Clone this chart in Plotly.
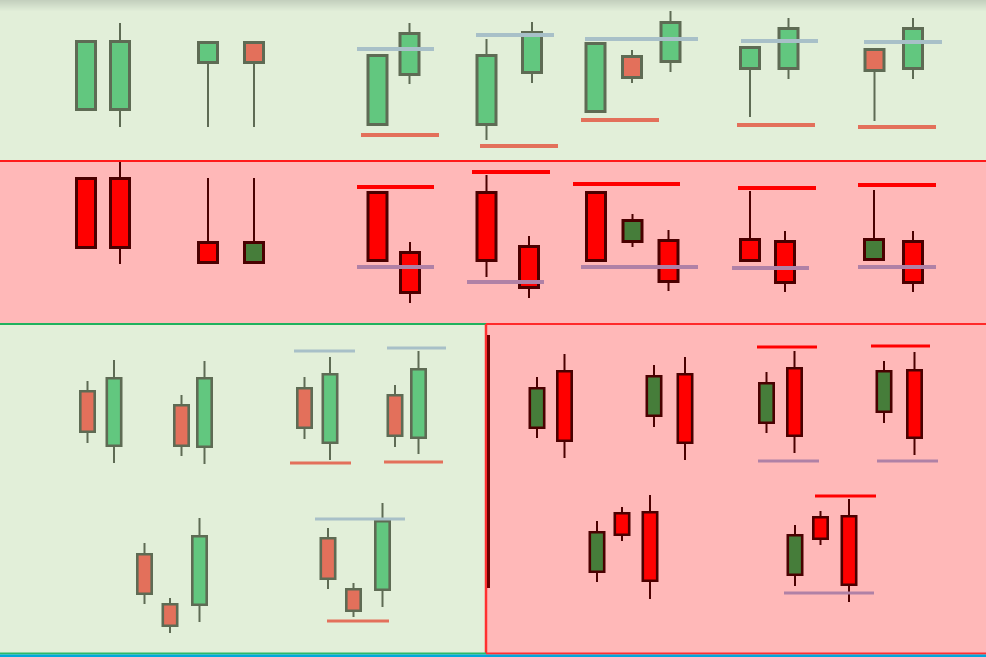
import plotly.graph_objects as go

W, H = 986, 657

# ---------------- candle data (price units, up = higher) ----------------
# Panel 1: top band (bullish patterns, light theme)
p1_x     = [86, 120, 208, 254, 377.5, 409.5, 486.5, 532, 595.5, 632, 670.5, 750, 788.5, 874.5, 913]
p1_open  = [546, 546, 593, 616, 531, 581, 531, 583, 544, 602, 594, 587, 587, 609, 587]
p1_high  = [617, 634, 616, 616, 603, 634, 618, 635, 615, 607, 646, 611, 639, 609, 639]
p1_low   = [546, 530, 530, 530, 531, 573, 517, 574, 544, 574, 585, 540, 578, 536, 578]
p1_close = [617, 617, 616, 593, 603, 625, 603, 626, 615, 578, 636, 611, 630, 585, 630]

# Panel 2: second band (bearish patterns, dark theme)
p2_x     = [86, 120, 208, 254, 377.5, 410, 486.5, 529, 596, 632.5, 668.5, 750, 785, 874, 913]
p2_open  = [480, 480, 416, 393, 466, 406, 466, 412, 466, 414, 418, 419, 417, 396, 417]
p2_high  = [480, 495, 479, 479, 466, 415, 482, 421, 466, 443, 427, 466, 426, 467, 426]
p2_low   = [408, 393, 393, 393, 395, 354, 380, 359, 395, 410, 366, 395, 365, 396, 365]
p2_close = [408, 408, 393, 416, 395, 363, 395, 368, 395, 438, 374, 395, 373, 419, 373]

# Panel 3: bottom-left (bullish reversal patterns, light theme)
p3_x     = [87.5, 114, 181.5, 204.5, 304.5, 330, 395, 418.5, 144.5, 170, 199.5, 328, 353.5, 382.5]
p3_open  = [267, 210, 253, 209, 270, 213, 263, 218, 104, 54, 51, 120, 69, 66]
p3_high  = [276, 297, 262, 296, 280, 300, 272, 306, 114, 59, 139, 129, 74, 154]
p3_low   = [214, 194, 201, 193, 218, 197, 210, 203, 53, 24, 35, 68, 40, 50]
p3_close = [224, 280, 210, 280, 228, 284, 220, 289, 62, 30, 122, 77, 45, 137]

# Panel 4: bottom-right (bearish reversal patterns, dark theme)
p4_x     = [537, 564.5, 654, 685, 766.5, 794.5, 884, 914.5, 597, 622, 650, 795, 820.5, 849]
p4_open  = [228, 287, 240, 284, 233, 290, 244, 288, 84, 145, 146, 81, 141, 142]
p4_high  = [280, 303, 292, 300, 285, 306, 296, 305, 136, 150, 162, 132, 146, 158]
p4_low   = [219, 199, 230, 197, 224, 204, 234, 202, 75, 116, 58, 71, 112, 55]
p4_close = [270, 215, 282, 213, 275, 220, 287, 218, 126, 121, 75, 123, 117, 71]

# ---------------- level lines: (start, end, price) ----------------
p1_resist  = [(357, 434, 608), (476, 554, 622), (585, 698, 618), (741, 818, 616), (864, 942, 615)]
p1_support = [(361, 439, 522), (480, 558, 511), (581, 659, 537), (737, 815, 532), (858, 936, 530)]
p2_resist  = [(357, 434, 470), (472, 550, 485), (573, 680, 473), (738, 816, 469), (858, 936, 472)]
p2_support = [(357, 434, 390), (467, 544, 375), (581, 698, 390), (732, 809, 389), (858, 936, 390)]
p3_resist  = [(294, 355, 306), (387, 446, 309), (315, 405, 138)]
p3_support = [(290, 351, 194), (384, 443, 195), (327, 389, 36)]
p4_resist  = [(757, 817, 310), (871, 930, 311), (815, 876, 161)]
p4_support = [(758, 819, 196), (877, 938, 196), (784, 874, 64)]

# ---------------- styles ----------------
themes = {
    "light": dict(up="#62c77f", down="#e3705b", edge="#5e6b54",
                  res="#a8c0c8", sup="#e3705b"),
    "dark": dict(up="#467d3a", down="#ff0000", edge="#4a0000",
                 res="#ff0000", sup="#b081a6"),
}
panels = [
    dict(x=p1_x, o=p1_open, h=p1_high, l=p1_low, c=p1_close, theme="light",
         bw=22, lw=3, res=p1_resist, sup=p1_support, lvw=4),
    dict(x=p2_x, o=p2_open, h=p2_high, l=p2_low, c=p2_close, theme="dark",
         bw=22, lw=3, res=p2_resist, sup=p2_support, lvw=4),
    dict(x=p3_x, o=p3_open, h=p3_high, l=p3_low, c=p3_close, theme="light",
         bw=17, lw=2.6, res=p3_resist, sup=p3_support, lvw=3),
    dict(x=p4_x, o=p4_open, h=p4_high, l=p4_low, c=p4_close, theme="dark",
         bw=17, lw=2.6, res=p4_resist, sup=p4_support, lvw=3),
]

fig = go.Figure()

# ---------------- backgrounds ----------------
shapes = []
def rect(x0, x1, y0, y1, color):
    shapes.append(dict(type="rect", xref="x", yref="y", x0=x0, x1=x1, y0=y0, y1=y1,
                       fillcolor=color, line=dict(width=0), layer="below"))
def hline(x0, x1, y, color, w):
    shapes.append(dict(type="line", xref="x", yref="y", x0=x0, x1=x1, y0=y, y1=y,
                       line=dict(color=color, width=w), layer="below"))
def vline(x, y0, y1, color, w):
    shapes.append(dict(type="line", xref="x", yref="y", x0=x, x1=x, y0=y0, y1=y1,
                       line=dict(color=color, width=w), layer="below"))

rect(0, W, 496, H, "#e2efd9")
# soft darker gradient at the very top
top_c0 = (196, 208, 190)
top_c1 = (226, 239, 217)
steps = 12
for i in range(steps):
    t = i / (steps - 1)
    col = tuple(round(a + (b - a) * t) for a, b in zip(top_c0, top_c1))
    rect(0, W, H - i - 1, H - i, "rgb(%d,%d,%d)" % col)
rect(0, W, 333, 496, "#ffb8b8")
rect(0, 486, 0, 333, "#e2efd9")
rect(486, W, 0, 333, "#ffb8b8")
hline(0, W, 496, "#ff1a1a", 2)
hline(0, 486, 333, "#1fb25e", 2)
hline(486, W, 333, "#ff2a2a", 2)
vline(486, 3, 333, "#ff3030", 2.5)
vline(488.5, 69, 322, "#6a0000", 3)
hline(0, 486, 3.5, "#2cba6a", 2)
hline(486, W, 3.5, "#ff3030", 2)
rect(0, W, 0, 2.5, "#00a8dc")

# ---------------- candles ----------------
for p in panels:
    th = themes[p["theme"]]
    lw = p["lw"]
    bx, bbase, bh, bcol = [], [], [], []
    wx, wy = [], []
    for x, o, h, l, c in zip(p["x"], p["o"], p["h"], p["l"], p["c"]):
        lo, hi = min(o, c), max(o, c)
        bx.append(x)
        bbase.append(lo + lw / 2)
        bh.append(hi - lo - lw)
        bcol.append(th["up"] if c > o else th["down"])
        if h > hi:
            wx += [x, x, None]
            wy += [h, hi, None]
        if l < lo:
            wx += [x, x, None]
            wy += [lo, l, None]
    fig.add_trace(go.Scatter(x=wx, y=wy, mode="lines",
                             line=dict(color=th["edge"], width=2),
                             hoverinfo="skip", showlegend=False))
    fig.add_trace(go.Bar(x=bx, base=bbase, y=bh, width=p["bw"] - lw,
                         marker=dict(color=bcol, line=dict(color=th["edge"], width=lw)),
                         hoverinfo="skip", showlegend=False))

# ---------------- level lines ----------------
for p in panels:
    th = themes[p["theme"]]
    for key, col in (("res", th["res"]), ("sup", th["sup"])):
        lx, ly = [], []
        for x0, x1, y in p[key]:
            lx += [x0, x1, None]
            ly += [y, y, None]
        fig.add_trace(go.Scatter(x=lx, y=ly, mode="lines",
                                 line=dict(color=col, width=p["lvw"]),
                                 hoverinfo="skip", showlegend=False))

fig.update_layout(
    width=W, height=H, margin=dict(l=0, r=0, t=0, b=0),
    paper_bgcolor="#e2efd9", plot_bgcolor="rgba(0,0,0,0)",
    barmode="overlay", shapes=shapes, showlegend=False,
    xaxis=dict(range=[0, W], visible=False, fixedrange=True),
    yaxis=dict(range=[0, H], visible=False, fixedrange=True),
)

fig.write_html("out.html", config={"displayModeBar": False})
